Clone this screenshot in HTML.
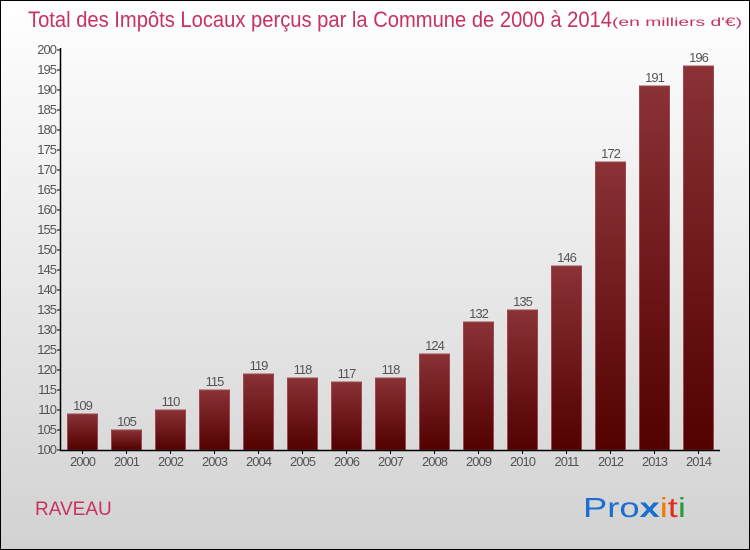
<!DOCTYPE html>
<html><head><meta charset="utf-8"><style>
body{margin:0}
#c{width:750px;height:550px;position:relative;box-sizing:border-box;border:1px solid #000;background:linear-gradient(#ffffff,#d2d2d2);overflow:hidden;font-family:"Liberation Sans",sans-serif}
</style></head><body>
<div id="c">
<svg id="s" width="750" height="550" style="position:absolute;left:-1px;top:-1px">
<defs><linearGradient id="g" x1="0" y1="0" x2="0" y2="1"><stop offset="0" stop-color="#8a3236"/><stop offset="1" stop-color="#520000"/></linearGradient></defs>
<text x="28" y="27" font-size="22" fill="#c8325f" textLength="584" lengthAdjust="spacingAndGlyphs">Total des Impôts Locaux perçus par la Commune de 2000 à 2014</text>
<text x="612" y="26" font-size="12" fill="#c8325f" textLength="130" lengthAdjust="spacingAndGlyphs">(en milliers d'€)</text>
<text x="35" y="515" font-size="19" fill="#c8325f">RAVEAU</text>
<text x="583" y="517" font-size="28" textLength="103" lengthAdjust="spacingAndGlyphs"><tspan fill="#1a6fd0">Pro</tspan><tspan fill="#1a6fd0" font-weight="bold">x</tspan><tspan fill="#f07d00">i</tspan><tspan fill="#e03020">t</tspan><tspan fill="#2a9a3a">i</tspan></text>
<g id="plot"></g>
</svg>
</div>
<script>
const years=["2000","2001","2002","2003","2004","2005","2006","2007","2008","2009","2010","2011","2012","2013","2014"];
const values=[109,105,110,115,119,118,117,118,124,132,135,146,172,191,196];
const yTicks=[100,105,110,115,120,125,130,135,140,145,150,155,160,165,170,175,180,185,190,195,200];
const NS="http://www.w3.org/2000/svg";
const g=document.getElementById('plot');
const y=v=>450-(v-100)*4;
const xc=i=>82.5+44*i;
function mk(t,a){const e=document.createElementNS(NS,t);for(const k in a)e.setAttribute(k,a[k]);g.appendChild(e);return e;}
yTicks.forEach(t=>{
 const l=mk('line',{x1:57,x2:61,y1:y(t),y2:y(t),stroke:'#000'});
 
 
 const tx=mk('text',{x:56,y:y(t)+4,'text-anchor':'end','font-size':13,fill:'#555','letter-spacing':'-1'});
 tx.textContent=t;
 
 
});
values.forEach((v,i)=>{
 const r=mk('rect',{x:xc(i)-15,y:y(v),width:30,height:450-y(v),fill:'url(#g)',stroke:'#9a4a4e','stroke-width':1});
 
 
 const vl=mk('text',{x:xc(i),y:y(v)-4,'text-anchor':'middle','font-size':13,fill:'#555','letter-spacing':'-1'});
 vl.textContent=v;
 
 
 const tk=mk('line',{x1:xc(i),x2:xc(i),y1:450,y2:454,stroke:'#000'});
 
 
 const xl=mk('text',{x:xc(i),y:466,'text-anchor':'middle','font-size':13,fill:'#555','letter-spacing':'-1'});
 xl.textContent=years[i];
 
 
});
const ya=mk('line',{x1:60.5,x2:60.5,y1:48,y2:450,stroke:'#000','stroke-width':1.5});


const xa=mk('line',{x1:60,x2:720,y1:450.5,y2:450.5,stroke:'#000','stroke-width':1.5});


</script>
</body></html>
